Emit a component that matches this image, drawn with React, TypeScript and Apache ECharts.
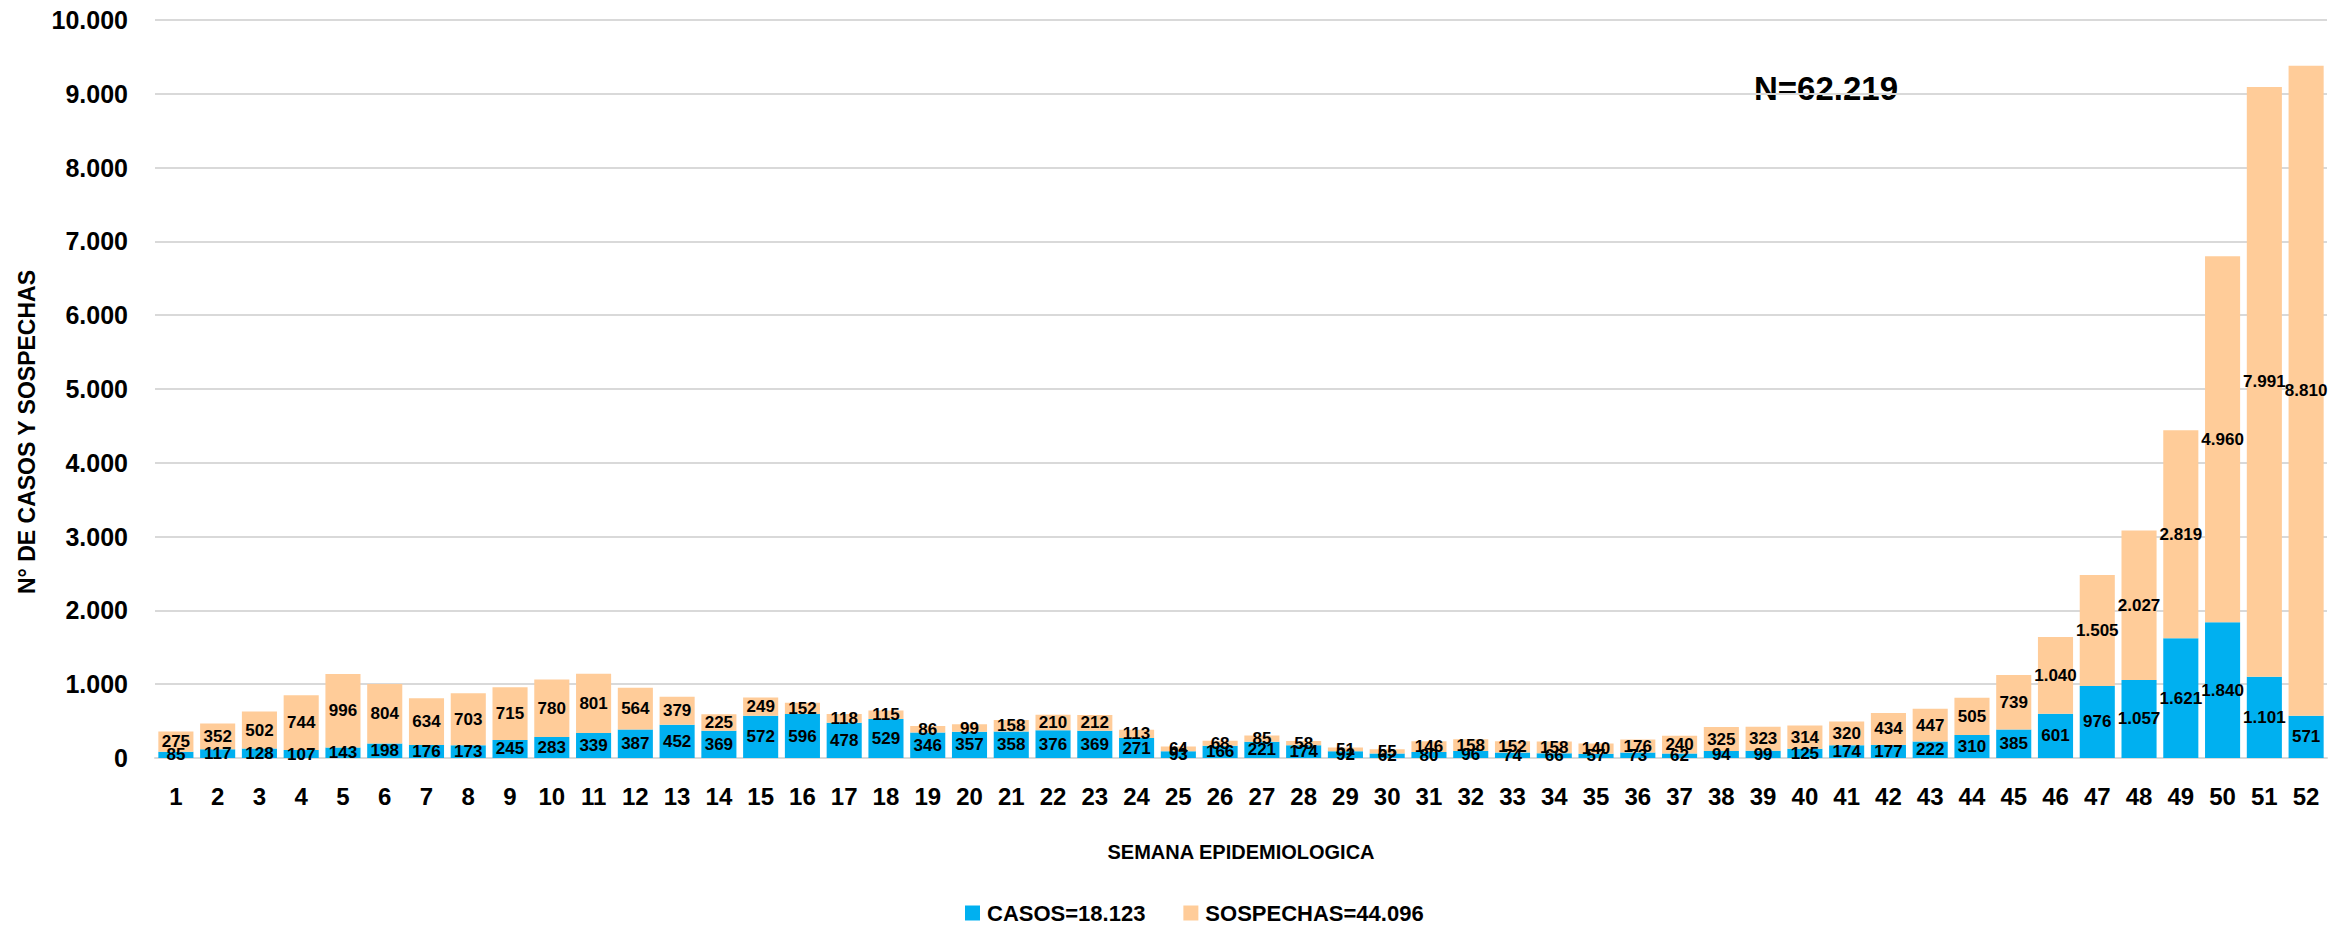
import React, { useEffect, useRef } from "react";
import * as echarts from "echarts";

const weeks = ["1","2","3","4","5","6","7","8","9","10","11","12","13","14","15","16","17","18","19","20","21","22","23","24","25","26","27","28","29","30","31","32","33","34","35","36","37","38","39","40","41","42","43","44","45","46","47","48","49","50","51","52"];

const casos = [85,117,128,107,143,198,176,173,245,283,339,387,452,369,572,596,478,529,346,357,358,376,369,271,93,166,221,174,92,62,80,96,74,66,57,73,62,94,99,125,174,177,222,310,385,601,976,1057,1621,1840,1101,571];

const sospechas = [275,352,502,744,996,804,634,703,715,780,801,564,379,225,249,152,118,115,86,99,158,210,212,113,64,68,85,58,51,55,146,158,152,158,140,176,240,325,323,314,320,434,447,505,739,1040,1505,2027,2819,4960,7991,8810];

const seriesNames = ["CASOS=18.123", "SOSPECHAS=44.096"];
const totalText = "N=62.219";
const xTitle = "SEMANA EPIDEMIOLOGICA";
const yTitle = "N° DE CASOS Y SOSPECHAS";
const yMax = 10000;
const yStep = 1000;

const FONT = '"Liberation Sans", Arial, sans-serif';
const BLUE = "#00B0F0";
const PEACH = "#FFCC99";

const fmt = (v: number) => String(v).replace(/\B(?=(\d{3})+(?!\d))/g, ".");

export default function App() {
  const ref = useRef<HTMLDivElement>(null);
  useEffect(() => {
    if (!ref.current) return;
    const chart = echarts.init(ref.current, null, { renderer: "svg" });
    const labelStyle = {
      show: true,
      position: "inside",
      color: "#000",
      fontFamily: FONT,
      fontWeight: "bold",
      fontSize: 17,
      formatter: (p: any) => fmt(p.value),
    };
    chart.setOption({
      animation: false,
      backgroundColor: "#fff",
      textStyle: { fontFamily: FONT },
      grid: { left: 155, right: 4, top: 20, bottom: 167 },
      legend: {
        left: 965,
        top: 902,
        padding: 0,
        icon: "rect",
        itemWidth: 15,
        itemHeight: 15,
        itemGap: 38,
        textStyle: { fontSize: 22, lineHeight: 22, fontWeight: "bold", color: "#000", fontFamily: FONT, padding: [0, 0, 0, 2] },
        data: seriesNames,
      },
      xAxis: {
        type: "category",
        data: weeks,
        axisTick: { show: false },
        axisLine: { lineStyle: { color: "#d9d9d9", width: 2 } },
        axisLabel: { fontSize: 24, fontWeight: "bold", color: "#000", margin: 26, fontFamily: FONT },
        name: xTitle,
        nameLocation: "middle",
        nameGap: 84,
        nameTextStyle: { fontSize: 20, fontWeight: "bold", color: "#000", fontFamily: FONT },
      },
      yAxis: {
        type: "value",
        min: 0,
        max: yMax,
        interval: yStep,
        axisLabel: {
          fontSize: 25,
          fontWeight: "bold",
          color: "#000",
          margin: 27,
          fontFamily: FONT,
          formatter: (v: number) => fmt(v),
        },
        axisLine: { show: false },
        axisTick: { show: false },
        splitLine: { lineStyle: { color: "#d9d9d9", width: 2 } },
      },
      series: [
        {
          name: seriesNames[0],
          type: "bar",
          stack: "total",
          data: casos,
          barCategoryGap: "16%",
          itemStyle: { color: BLUE },
          label: labelStyle,
          z: 3,
        },
        {
          name: seriesNames[1],
          type: "bar",
          stack: "total",
          data: sospechas,
          barCategoryGap: "16%",
          itemStyle: { color: PEACH },
          label: labelStyle,
          z: 3,
        },
      ],
      graphic: [
        {
          type: "text",
          x: 27,
          y: 432,
          rotation: Math.PI / 2,
          style: {
            text: yTitle,
            fontFamily: FONT,
            fontSize: 23,
            fontWeight: "bold",
            fill: "#000",
            align: "center",
            verticalAlign: "middle",
          },
        },
        {
          type: "text",
          x: 1754,
          y: 88,
          style: {
            text: totalText,
            fontFamily: FONT,
            fontSize: 33,
            fontWeight: "bold",
            fill: "#000",
            align: "left",
            verticalAlign: "middle",
          },
        },
      ],
    });
    return () => chart.dispose();
  }, []);
  return (
    <div
      ref={ref}
      style={{ position: "fixed", left: 0, top: 0, width: 2331, height: 925 }}
    />
  );
}
